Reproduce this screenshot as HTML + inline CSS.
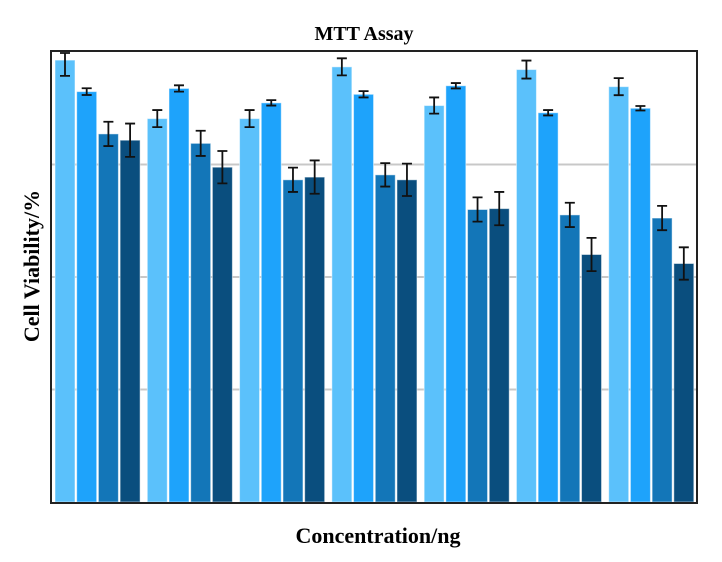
<!DOCTYPE html>
<html><head><meta charset="utf-8"><style>
body{margin:0;background:#fff;}
svg{display:block;font-family:"Liberation Serif",serif;font-weight:bold;}
</style></head><body>
<svg id="chart" width="722" height="562">
<text x="364" y="40" text-anchor="middle" font-size="20">MTT Assay</text>
<text transform="translate(39,266) rotate(-90)" text-anchor="middle" font-size="22">Cell Viability/%</text>
<text x="378" y="543" text-anchor="middle" font-size="22">Concentration/ng</text>
<g id="grid"></g><g id="bars"></g>
<rect x="51" y="51" width="646" height="452" fill="none" stroke="#222" stroke-width="2"/>
</svg>
<script>
const groups = ["c1","c2","c3","c4","c5","c6","c7"];
const s1 = [98.2,85.2,85.2,96.7,88.1,96.1,92.3];
const s2 = [91.2,91.9,88.7,90.6,92.5,86.5,87.5];
const s3 = [81.8,79.7,71.6,72.7,65.0,63.8,63.1];
const s4 = [80.4,74.4,72.2,71.6,65.2,55.0,53.0];
const e1 = [3.5,1.9,1.9,1.9,1.8,2.0,1.9];
const e2 = [0.75,0.7,0.6,0.7,0.6,0.6,0.5];
const e3 = [2.7,2.8,2.7,2.6,2.7,2.7,2.7];
const e4 = [3.7,3.6,3.7,3.6,3.7,3.7,3.6];
const gridTicks = [25,50,75];
const series=[s1,s2,s3,s4], errs=[e1,e2,e3,e4];
const colors=["#5bc1fb","#1ea3fb","#1376b8","#0a4e7e"];
const ns="http://www.w3.org/2000/svg";
const L=51,R=697,T=52,B=502;
const y=v=>B-(v/100)*(B-T);
const gw=(R-L)/groups.length;
const x=(g,s)=>L+g*gw+4+s*21.7;
const grid=document.getElementById('grid'), bars=document.getElementById('bars');
gridTicks.forEach(t=>{
  const l=document.createElementNS(ns,'line');
  l.setAttribute('x1',L);l.setAttribute('x2',R);l.setAttribute('y1',y(t));l.setAttribute('y2',y(t));
  l.setAttribute('stroke','#c8c8c8');l.setAttribute('stroke-width','2');
  
  
  grid.appendChild(l);
});
groups.forEach((g,gi)=>{
  series.forEach((s,si)=>{
    const r=document.createElementNS(ns,'rect');
    const bx=x(gi,si), top=y(s[gi]);
    r.setAttribute('x',bx);r.setAttribute('y',top);r.setAttribute('width',20);r.setAttribute('height',B-top);
    r.setAttribute('fill',colors[si]);r.setAttribute('stroke','rgba(255,255,255,0.5)');r.setAttribute('stroke-width','1');
    
    
    bars.appendChild(r);
    const e=errs[si][gi], cx=bx+10, y1=Math.max(y(s[gi]+e),53), y2=y(s[gi]-e);
    const p=document.createElementNS(ns,'path');
    p.setAttribute('d',`M${cx},${y1}V${y2}M${cx-5},${y1}H${cx+5}M${cx-5},${y2}H${cx+5}`);
    p.setAttribute('stroke','#111');p.setAttribute('stroke-width','1.8');p.setAttribute('fill','none');
    
    
    bars.appendChild(p);
  });
});
</script>
</body></html>
